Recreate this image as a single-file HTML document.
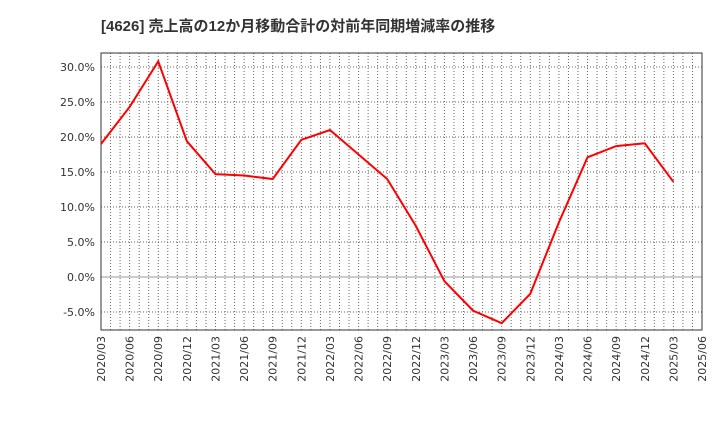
<!DOCTYPE html>
<html><head><meta charset="utf-8"><style>body{margin:0;background:#fff}svg{display:block}</style></head>
<body>
<svg id="c" width="720" height="440" xmlns="http://www.w3.org/2000/svg" font-family="DejaVu Sans, Liberation Sans, sans-serif">
<text x="101" y="31" font-size="15" font-weight="bold" fill="#333" font-family="Liberation Sans, Noto Sans CJK JP, sans-serif">[4626]  売上高の12か月移動合計の対前年同期増減率の推移</text>
<g id="grid"></g><g id="axes"></g><g id="series"></g>
</svg>
<script>
const categories=["2020/03","2020/06","2020/09","2020/12","2021/03","2021/06","2021/09","2021/12","2022/03","2022/06","2022/09","2022/12","2023/03","2023/06","2023/09","2023/12","2024/03","2024/06","2024/09","2024/12","2025/03"];
const values=[19.0,24.3,30.8,19.4,14.7,14.5,14.0,19.6,21.0,17.5,14.0,7.3,-0.6,-4.8,-6.6,-2.4,7.8,17.1,18.7,19.1,13.6];
const xTickLabels=["2020/03","2020/06","2020/09","2020/12","2021/03","2021/06","2021/09","2021/12","2022/03","2022/06","2022/09","2022/12","2023/03","2023/06","2023/09","2023/12","2024/03","2024/06","2024/09","2024/12","2025/03","2025/06"];
const yTicks=[-5,0,5,10,15,20,25,30];
const NS="http://www.w3.org/2000/svg";
const L=101,R=702,T=53,B=330,yMin=-7.57,yMax=32.0;
const nQ=xTickLabels.length-1;
const xs=i=>L+(R-L)*i/nQ;
const ys=v=>B-(v-yMin)/(yMax-yMin)*(B-T);
function mk(tag,at,parent){const e=document.createElementNS(NS,tag);for(const k in at)e.setAttribute(k,at[k]);parent.appendChild(e);return e;}
const grid=document.getElementById('grid'),axes=document.getElementById('axes'),ser=document.getElementById('series');
for(let m=1;m<nQ*3;m++){const x=L+(R-L)*m/(nQ*3);
const g=mk('line',{x1:x,x2:x,y1:T,y2:B,stroke:'#666','stroke-dasharray':'1,2','stroke-width':1},grid);

}
yTicks.forEach(v=>{const y=ys(v);
const g=mk('line',{x1:L,x2:R,y1:y,y2:y,stroke:v===0?'#999':'#666','stroke-dasharray':v===0?'':'1,2','stroke-width':1},grid);


const t=mk('text',{x:L-6,y:y+4,'text-anchor':'end','font-size':11,fill:'#333'},axes);t.textContent=v.toFixed(1)+'%';

});
xTickLabels.forEach((s,i)=>{const x=xs(i);
const t=mk('text',{x:x+4,y:B+6,'text-anchor':'end','font-size':11,fill:'#333',transform:`rotate(-90 ${x+4} ${B+6})`},axes);t.textContent=s;

});
const fr=mk('rect',{x:L,y:T,width:R-L,height:B-T,fill:'none',stroke:'#333','stroke-width':1},axes);


const p=mk('polyline',{points:values.map((v,i)=>xs(i)+','+ys(v)).join(' '),fill:'none',stroke:'#f00','stroke-width':2,'stroke-linejoin':'miter'},ser);


</script>
</body></html>
